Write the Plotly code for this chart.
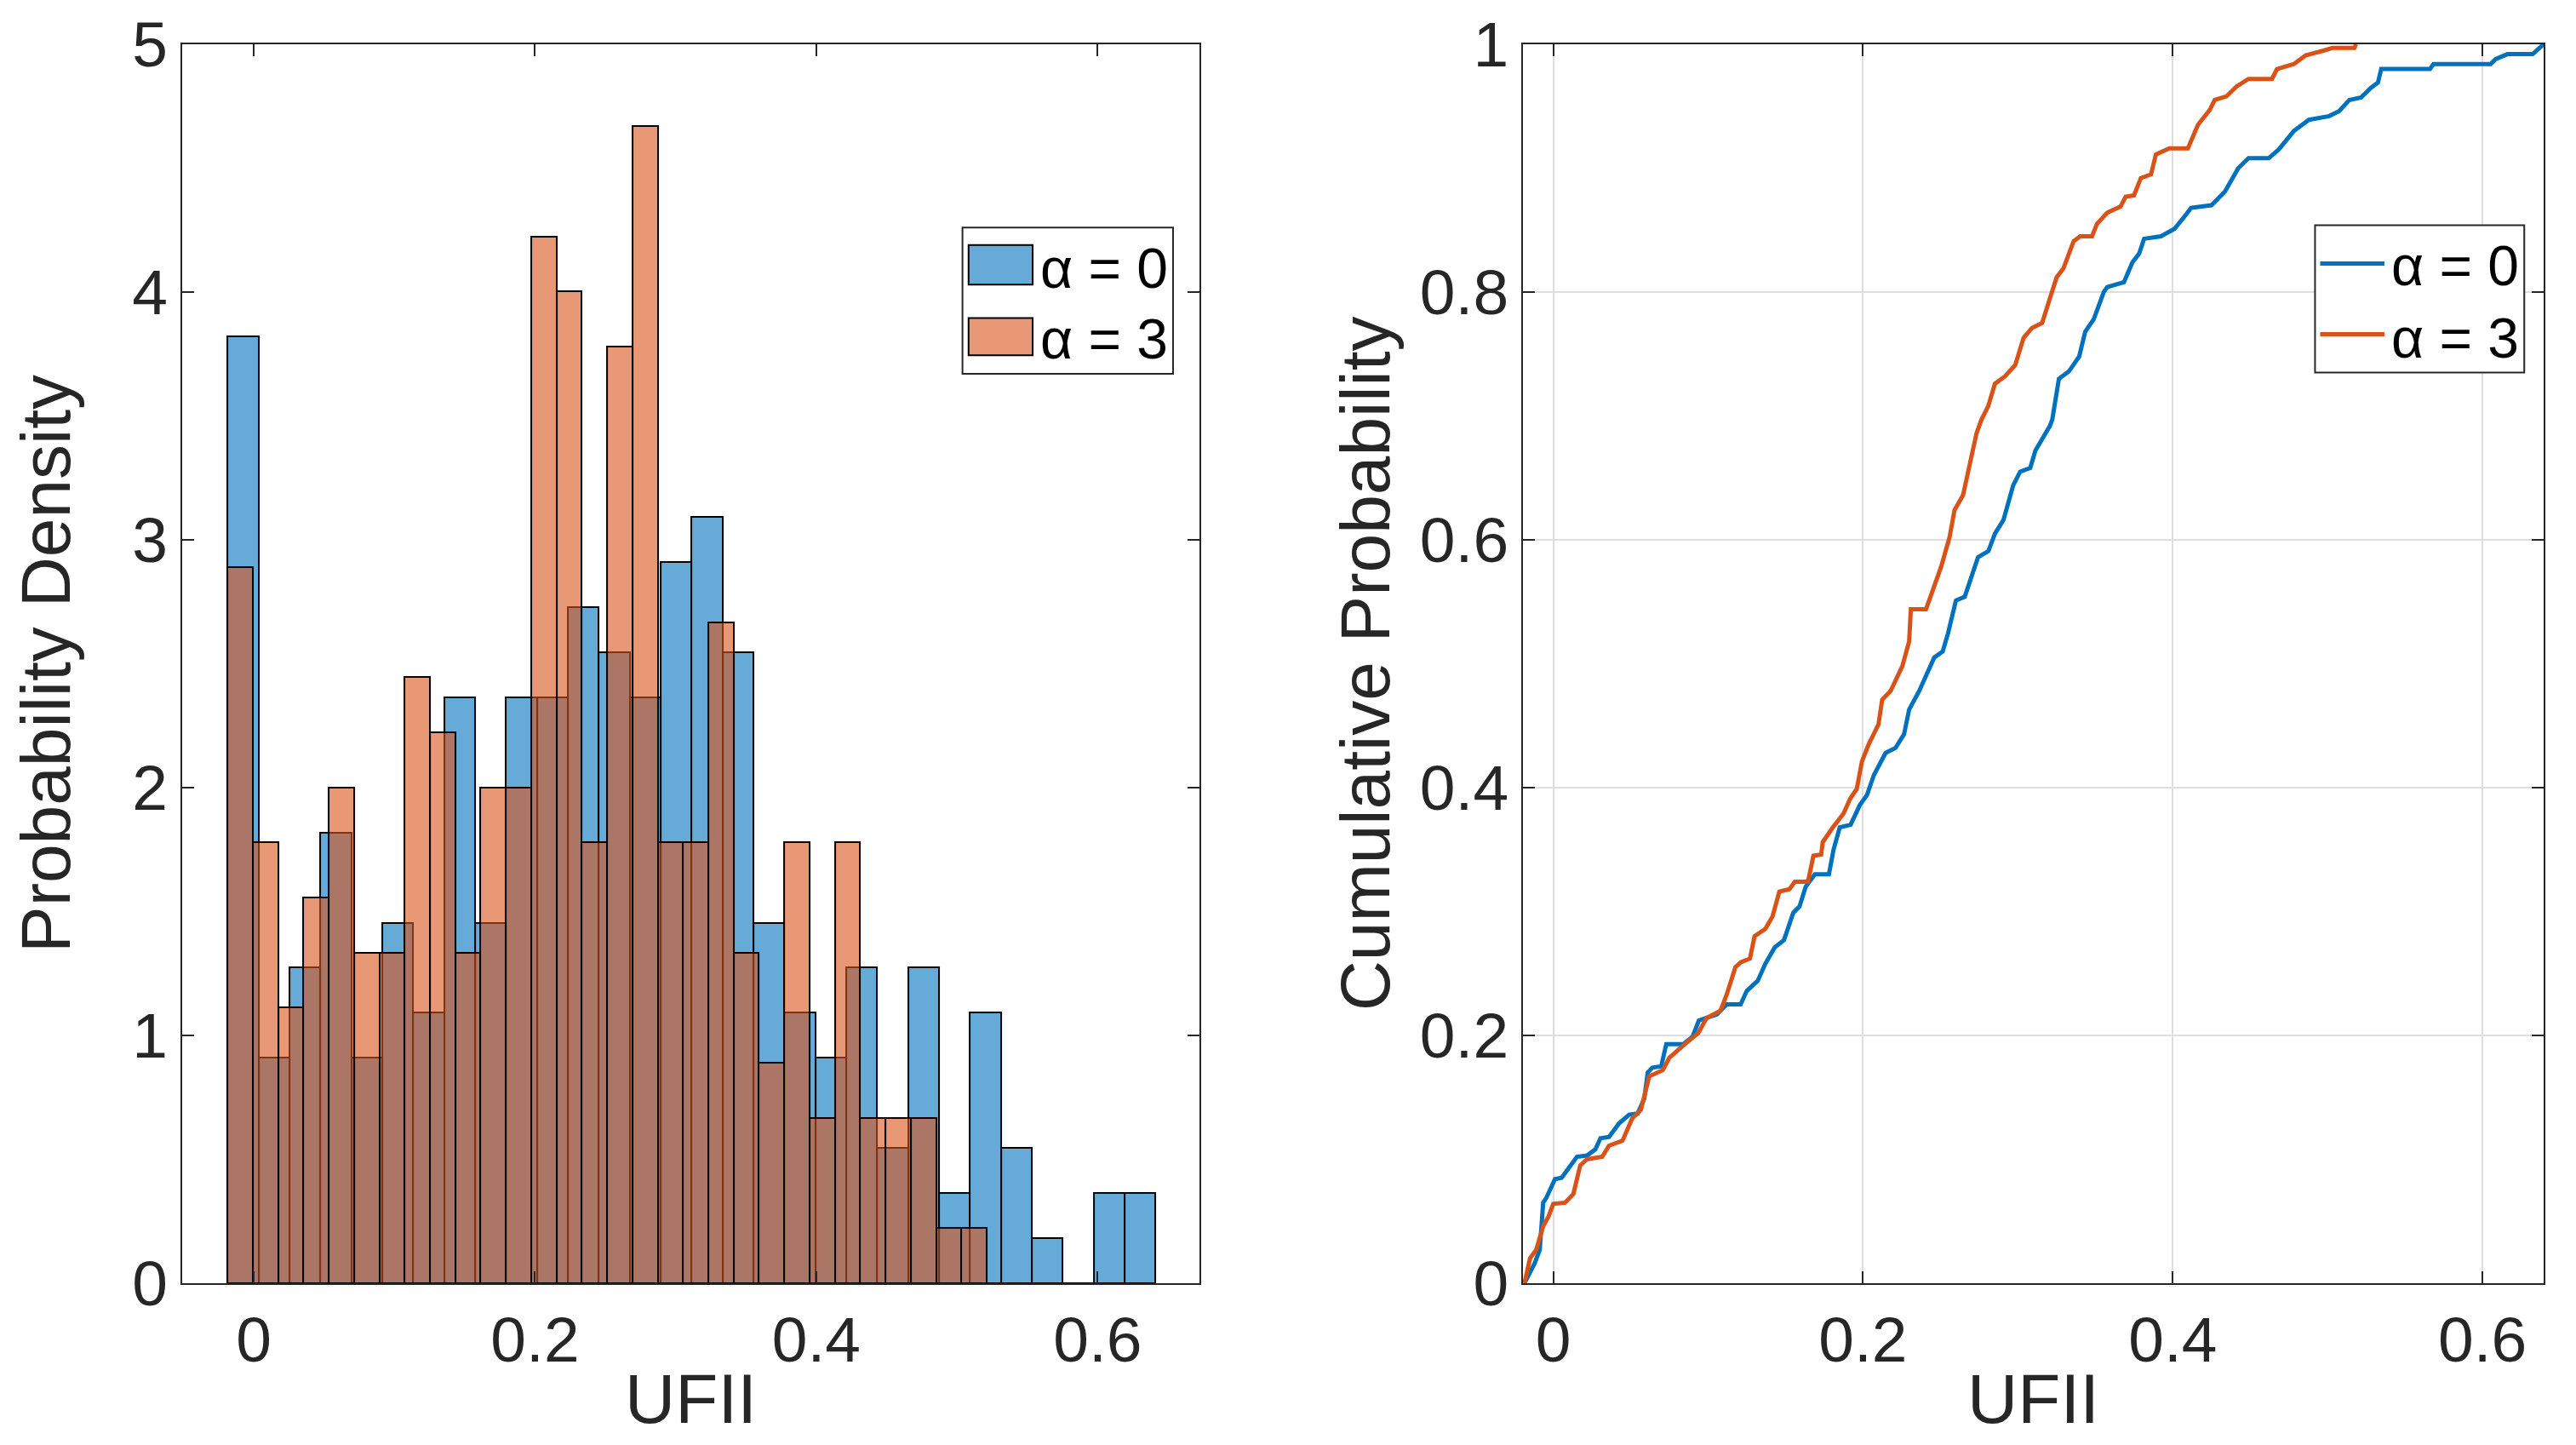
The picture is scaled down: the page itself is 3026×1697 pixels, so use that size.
import plotly.graph_objects as go

# histogram of UFII, 30 bins per case, pdf normalisation, 250 samples each
n_samples = 250
bin_start = -0.0186
bin_w_a0 = 0.02199
bin_w_a3 = 0.01799
counts_a0 = [21, 5, 7, 10, 5, 8, 6, 13, 8, 13, 13, 15, 14, 13, 16, 17, 14, 8, 6, 5,
             7, 3, 7, 2, 6, 3, 1, 0, 2, 2]
counts_a3 = [13, 8, 5, 7, 9, 6, 6, 11, 10, 6, 9, 9, 19, 18, 8, 17, 21, 8, 8, 12,
             6, 4, 8, 3, 8, 3, 3, 3, 1, 1]

cdf_x_a0 = [-0.0186, -0.012, -0.0087, -0.0065, -0.0044, 0.0011, 0.0054, 0.0153, 0.0218, 0.0272,
            0.0305, 0.036, 0.0425, 0.049, 0.0545, 0.0588, 0.061, 0.064, 0.0697, 0.073,
            0.084, 0.090, 0.094, 0.1057, 0.112, 0.121, 0.125, 0.132, 0.137, 0.143,
            0.149, 0.155, 0.159, 0.163, 0.169, 0.178, 0.181, 0.185, 0.192, 0.198,
            0.2026, 0.207, 0.2146, 0.221, 0.2265, 0.2298, 0.2363, 0.2417, 0.246, 0.2515,
            0.2548, 0.260, 0.2657, 0.270, 0.2743, 0.281, 0.2852, 0.2907, 0.2928, 0.297,
            0.3015, 0.308, 0.3113, 0.3178, 0.3207, 0.3222, 0.3265, 0.333, 0.3396, 0.3435,
            0.349, 0.3555, 0.3577, 0.3685, 0.374, 0.3783, 0.3815, 0.3924, 0.4011, 0.4076,
            0.4119, 0.425, 0.4337, 0.4423, 0.4489, 0.4619, 0.4684, 0.4782, 0.4879, 0.501,
            0.5075, 0.514, 0.5216, 0.5281, 0.5325, 0.5346, 0.5661, 0.5683, 0.6052, 0.6085,
            0.6161, 0.6324, 0.6356, 0.6395]
cdf_y_a0 = [0.0, 0.016, 0.027, 0.065, 0.069, 0.084, 0.085, 0.102, 0.103, 0.108,
            0.117, 0.118, 0.129, 0.136, 0.137, 0.149, 0.170, 0.174, 0.175, 0.193,
            0.193, 0.199, 0.212, 0.217, 0.225, 0.225, 0.236, 0.244, 0.258, 0.271,
            0.277, 0.299, 0.304, 0.320, 0.330, 0.330, 0.350, 0.368, 0.370, 0.386,
            0.394, 0.410, 0.428, 0.432, 0.443, 0.463, 0.478, 0.494, 0.505, 0.510,
            0.524, 0.551, 0.554, 0.570, 0.586, 0.591, 0.605, 0.616, 0.626, 0.644,
            0.655, 0.658, 0.672, 0.686, 0.692, 0.697, 0.730, 0.736, 0.748, 0.768,
            0.778, 0.800, 0.804, 0.808, 0.824, 0.831, 0.843, 0.845, 0.851, 0.861,
            0.868, 0.870, 0.881, 0.900, 0.908, 0.908, 0.915, 0.930, 0.939, 0.942,
            0.946, 0.955, 0.957, 0.965, 0.969, 0.980, 0.980, 0.984, 0.984, 0.988,
            0.992, 0.992, 0.996, 1.0]

cdf_x_a3 = [-0.0186, -0.015, -0.011, -0.0065, -0.003, 0.0, 0.0076, 0.013, 0.0174, 0.0218,
            0.0316, 0.036, 0.0447, 0.051, 0.0566, 0.062, 0.0708, 0.075, 0.086, 0.0937,
            0.099, 0.108, 0.112, 0.1176, 0.121, 0.127, 0.130, 0.137, 0.1416, 0.146,
            0.1525, 0.156, 0.1645, 0.168, 0.173, 0.174, 0.180, 0.1874, 0.1917, 0.196,
            0.1993, 0.2037, 0.210, 0.2124, 0.2178, 0.2254, 0.2298, 0.2309, 0.2407, 0.245,
            0.2504, 0.2559, 0.2591, 0.2646, 0.2689, 0.2733, 0.2765, 0.2809, 0.2852, 0.2917,
            0.2983, 0.3037, 0.3091, 0.3157, 0.3207, 0.3251, 0.3294, 0.336, 0.3403, 0.3479,
            0.3511, 0.3577, 0.3663, 0.3696, 0.375, 0.3794, 0.386, 0.3891, 0.3978, 0.4098,
            0.4163, 0.4239, 0.4271, 0.4347, 0.4413, 0.4489, 0.4641, 0.4673, 0.4782, 0.4858,
            0.4977, 0.5031, 0.5173, 0.5184]
cdf_y_a3 = [0.0, 0.020, 0.027, 0.046, 0.054, 0.064, 0.065, 0.072, 0.095, 0.100,
            0.102, 0.111, 0.115, 0.133, 0.140, 0.167, 0.172, 0.182, 0.194, 0.202,
            0.214, 0.220, 0.233, 0.255, 0.259, 0.262, 0.280, 0.286, 0.296, 0.316,
            0.318, 0.324, 0.324, 0.345, 0.346, 0.356, 0.367, 0.379, 0.391, 0.399,
            0.421, 0.435, 0.451, 0.471, 0.478, 0.498, 0.518, 0.544, 0.544, 0.559,
            0.578, 0.602, 0.624, 0.636, 0.659, 0.686, 0.697, 0.708, 0.726, 0.732,
            0.741, 0.763, 0.771, 0.775, 0.795, 0.812, 0.819, 0.841, 0.845, 0.845,
            0.855, 0.864, 0.869, 0.877, 0.878, 0.892, 0.895, 0.911, 0.916, 0.916,
            0.935, 0.947, 0.955, 0.958, 0.966, 0.972, 0.972, 0.980, 0.984, 0.991,
            0.995, 0.997, 0.997, 1.0]

labels = ['α = 0', 'α = 3']

BLUE = '#0072BD'
ORANGE = '#D95319'
BLUE_FILL = 'rgba(0,114,189,0.6)'
ORANGE_FILL = 'rgba(217,83,25,0.6)'
INK = '#262626'
FONT = 'Liberation Sans, Arial, Helvetica, sans-serif'


def centers(w, n):
    return [bin_start + (i + 0.5) * w for i in range(n)]


fig = go.Figure()

fig.add_trace(go.Bar(x=centers(bin_w_a0, len(counts_a0)), y=[c / (n_samples * bin_w_a0) for c in counts_a0],
                     width=bin_w_a0, name=labels[0], showlegend=False,
                     marker=dict(color=BLUE_FILL, line=dict(color='black', width=2)),
                     xaxis='x', yaxis='y'))
fig.add_trace(go.Bar(x=centers(bin_w_a3, len(counts_a3)), y=[c / (n_samples * bin_w_a3) for c in counts_a3],
                     width=bin_w_a3, name=labels[1], showlegend=False,
                     marker=dict(color=ORANGE_FILL, line=dict(color='black', width=2)),
                     xaxis='x', yaxis='y'))

fig.add_trace(go.Scatter(x=cdf_x_a0, y=cdf_y_a0, mode='lines', name=labels[0], showlegend=False,
                         line=dict(color=BLUE, width=5), xaxis='x2', yaxis='y2'))
fig.add_trace(go.Scatter(x=cdf_x_a3, y=cdf_y_a3, mode='lines', name=labels[1], showlegend=False,
                         line=dict(color=ORANGE, width=5), xaxis='x2', yaxis='y2'))

axis_common = dict(showline=True, linecolor=INK, linewidth=2, mirror='ticks', ticks='inside',
                   ticklen=14, tickwidth=2, tickcolor=INK, zeroline=False, automargin=False,
                   tickfont=dict(size=75, color=INK, family=FONT))
title_font = dict(size=82, color=INK, family=FONT)

# the page body adds an 8px offset, domains are nudged to compensate
fig.update_layout(
    width=3026, height=1697, margin=dict(l=0, r=0, t=0, b=0),
    paper_bgcolor='white', plot_bgcolor='white', barmode='overlay', bargap=0,
    font=dict(family=FONT, color=INK),
    xaxis=dict(domain=[0.0681, 0.4630], range=[-0.0508, 0.6724], tickvals=[0, 0.2, 0.4, 0.6],
               showgrid=False, anchor='y', title=dict(text='UFII', font=title_font, standoff=0),
               **axis_common),
    yaxis=dict(domain=[0.1167, 0.9741], range=[0, 5], dtick=1, showgrid=False, anchor='x',
               title=dict(text='Probability Density', font=title_font, standoff=46), **axis_common),
    xaxis2=dict(domain=[0.5886, 0.9848], range=[-0.0195, 0.6395], tickvals=[0, 0.2, 0.4, 0.6],
                showgrid=True, gridcolor='#DEDEDE', gridwidth=2, anchor='y2',
                title=dict(text='UFII', font=title_font, standoff=0), **axis_common),
    yaxis2=dict(domain=[0.1167, 0.9741], range=[0, 1], dtick=0.2, showgrid=True, gridcolor='#DEDEDE',
                gridwidth=2, anchor='x2',
                title=dict(text='Cumulative Probability', font=title_font, standoff=8), **axis_common),
)

# legend boxes drawn by hand so the swatches can be as large as in the original
legend_font = dict(size=66, color='black', family=FONT)
for xr, yr, bx in [('x domain', 'y domain', (0.767, 0.974, 0.734, 0.852)),
                   ('x2 domain', 'y2 domain', (0.776, 0.981, 0.735, 0.854))]:
    fig.add_shape(type='rect', xref=xr, yref=yr, x0=bx[0], x1=bx[1], y0=bx[2], y1=bx[3],
                  line=dict(color=INK, width=2), fillcolor='white', layer='above')

fig.add_shape(type='rect', xref='x domain', yref='y domain', x0=0.773, x1=0.836, y0=0.806, y1=0.838,
              line=dict(color='black', width=2), fillcolor=BLUE_FILL, layer='above')
fig.add_shape(type='rect', xref='x domain', yref='y domain', x0=0.773, x1=0.836, y0=0.749, y1=0.779,
              line=dict(color='black', width=2), fillcolor=ORANGE_FILL, layer='above')
fig.add_annotation(text=labels[0], xref='x domain', yref='y domain', x=0.842, y=0.819,
                   xanchor='left', yanchor='middle', showarrow=False, font=legend_font)
fig.add_annotation(text=labels[1], xref='x domain', yref='y domain', x=0.842, y=0.762,
                   xanchor='left', yanchor='middle', showarrow=False, font=legend_font)

fig.add_shape(type='line', xref='x2 domain', yref='y2 domain', x0=0.781, x1=0.844, y0=0.823, y1=0.823,
              line=dict(color=BLUE, width=5), layer='above')
fig.add_shape(type='line', xref='x2 domain', yref='y2 domain', x0=0.781, x1=0.844, y0=0.766, y1=0.766,
              line=dict(color=ORANGE, width=5), layer='above')
fig.add_annotation(text=labels[0], xref='x2 domain', yref='y2 domain', x=0.849, y=0.821,
                   xanchor='left', yanchor='middle', showarrow=False, font=legend_font)
fig.add_annotation(text=labels[1], xref='x2 domain', yref='y2 domain', x=0.849, y=0.763,
                   xanchor='left', yanchor='middle', showarrow=False, font=legend_font)

fig.write_html('out.html')
